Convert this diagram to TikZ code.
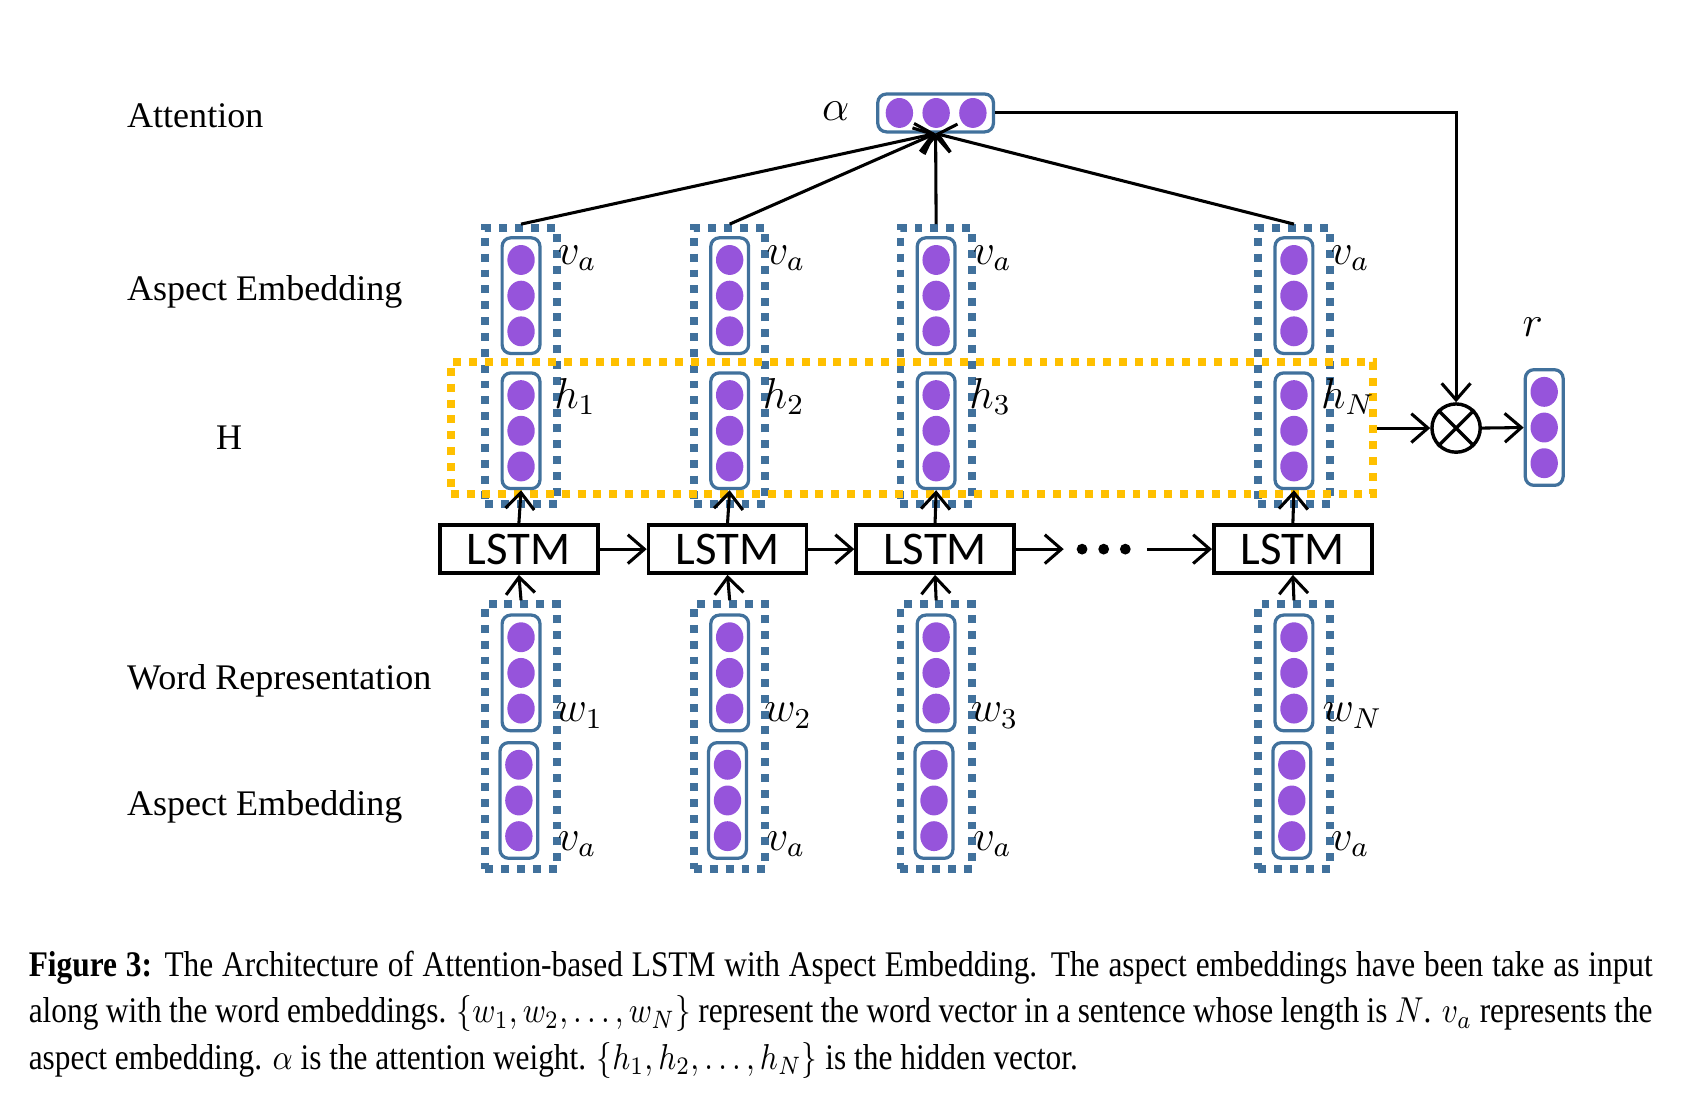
\documentclass[tikz,border=0pt]{standalone}
\usepackage{graphicx}
\usepackage{fontspec}
\setmainfont{Liberation Serif}
\newfontfamily\calibfont{Carlito}
\usetikzlibrary{arrows.meta,shapes.geometric}
\definecolor{vblue}{RGB}{65,113,156}
\definecolor{vpurple}{RGB}{150,84,219}
\definecolor{vyellow}{RGB}{255,192,0}
\newcommand\vvec[3]{%
  \node[vbox] (#1) at (#2,#3) {};
  \node[vdot] (#1a) at (#2,#3-33) {};
  \node[vdot] (#1b) at (#2,#3) {};
  \node[vdot] (#1c) at (#2,#3+33) {};}
\begin{document}
\begin{tikzpicture}[x=0.3pt,y=-0.3pt,
  vbox/.style={draw=vblue,line width=0.9pt,rounded corners=2.4pt,minimum width=10.5pt,minimum height=32.1pt,inner sep=0pt},
  hbox/.style={draw=vblue,line width=0.9pt,rounded corners=2.4pt,minimum width=32.1pt,minimum height=10.5pt,inner sep=0pt},
  vdot/.style={ellipse,fill=vpurple,minimum width=7.6pt,minimum height=8.3pt,inner sep=0pt},
  dotbox/.style={draw=vblue,line width=2.2pt,dash pattern=on 2.2pt off 2.2pt,minimum width=19.8pt,inner sep=0pt},
  ybox/.style={draw=vyellow,line width=2.2pt,dash pattern=on 2.2pt off 2.2pt,inner sep=0pt},
  lstm/.style={draw,line width=1.05pt,minimum width=43.8pt,minimum height=13.2pt,inner sep=0pt,font=\calibfont\fontsize{13}{13}\selectfont},
  arr/.style={line width=0.85pt,-{Straight Barb[length=4.6pt,width=8pt,line width=0.85pt]}},
  lab/.style={font=\fontsize{10}{12}\selectfont,anchor=west,inner sep=0pt},
  mlab/.style={font=\fontsize{12}{14}\selectfont,inner sep=0pt}
]
\useasboundingbox (-2,-1) rectangle (1566,1026.7);

% left labels
\node[lab] (lAtt) at (115,106) {Attention};
\node[lab] (lAsp1) at (115,269) {Aspect Embedding};
\node[font=\fontsize{10}{12}\selectfont,inner sep=0pt] (lH) at (210,404) {H};
\node[lab] (lWord) at (115,629) {Word Representation};
\node[lab] (lAsp2) at (115,745) {Aspect Embedding};

% outer dotted boxes
\foreach \c/\i in {480/1,673/2,864/3,1195/4}{
  \node[dotbox,minimum height=76.5pt] (U\i) at (\c,337.5) {};
  \node[dotbox,minimum height=73.5pt] (D\i) at (\c,680.5) {};
}
% yellow H box
\node[ybox,minimum width=255.9pt,minimum height=36.6pt] (Y) at (841.5,395) {};

% vectors
\foreach \c/\i in {480/1,673/2,864/3,1195/4}{
  \vvec{va\i}{\c}{272.5}
  \vvec{h\i}{\c}{397.5}
  \vvec{w\i}{\c}{621.5}
  \vvec{vb\i}{\c-2}{739.5}
}

% LSTM cells
\node[lstm] (L1) at (478,507) {LSTM};
\node[lstm] (L2) at (671,507) {LSTM};
\node[lstm] (L3) at (863,507) {LSTM};
\node[lstm] (L4) at (1194,507) {LSTM};

% ellipsis dots
\node[circle,fill,minimum size=3pt,inner sep=0pt] (e1) at (999,507) {};
\node[circle,fill,minimum size=3pt,inner sep=0pt] (e2) at (1019,507) {};
\node[circle,fill,minimum size=3pt,inner sep=0pt] (e3) at (1039,507) {};
\coordinate (eL) at (982,507);
\coordinate (eR) at (1059,507);

% attention vector
\node[hbox] (alpha) at (863.5,103.5) {};
\node[vdot] (al1) at (830,103.5) {};
\node[vdot] (al2) at (864,103.5) {};
\node[vdot] (al3) at (898,103.5) {};
\node[mlab] (alab) at (771,102) {$\alpha$};

% otimes and r
\node[circle,draw,line width=0.95pt,minimum size=13.4pt,inner sep=0pt] (ot) at (1345,395) {};
\draw[line width=0.95pt] (ot.north west) -- (ot.south east) (ot.north east) -- (ot.south west);
\vvec{r}{1426.5}{394.5}
\node[mlab] (rlab) at (1416,302) {$r$};

% labels
\foreach \c/\i/\s in {480/1/1,673/2/2,864/3/3,1195/4/N}{
  \node[mlab] (lva\i) at (\c+52,238) {$v_a$};
  \node[mlab] (lh\i) at (\c+50,366) {$h_\s$};
  \node[mlab] (lw\i) at (\c+54,661) {$w_\s$};
  \node[mlab] (lvb\i) at (\c+52,780) {$v_a$};
}

% connectors
\foreach \i in {1,2,3,4}{
  \draw[arr] (D\i.north) -- (L\i.south);
  \draw[arr] (L\i.north) -- (h\i.south);
  \draw[arr] (U\i.north) -- (alpha.south);
}
\draw[arr] (L1.east) -- (L2.west);
\draw[arr] (L2.east) -- (L3.west);
\draw[arr] (L3.east) -- (eL);
\draw[arr] (eR) -- (L4.west);
\draw[arr] (alpha.east) -| (ot.north);
\draw[arr] (Y.east) -- (ot.west);
\draw[arr] (ot.east) -- (r.west);

% caption
\node[anchor=north west,inner sep=0pt] (cap) at (24,878)
{\scalebox{0.87}[1]{\parbox{518pt}{\fontsize{10}{12.9}\selectfont
\textbf{Figure 3:} The Architecture of Attention-based LSTM with Aspect Embedding. The aspect embeddings have been take as input\linebreak
along with the word embeddings. $\{w_1,w_2,\ldots,w_N\}$ represent the word vector in a sentence whose length is $N$. $v_a$ represents the\linebreak
aspect embedding. $\alpha$ is the attention weight. $\{h_1,h_2,\ldots,h_N\}$ is the hidden vector.}}};
\end{tikzpicture}
\end{document}
